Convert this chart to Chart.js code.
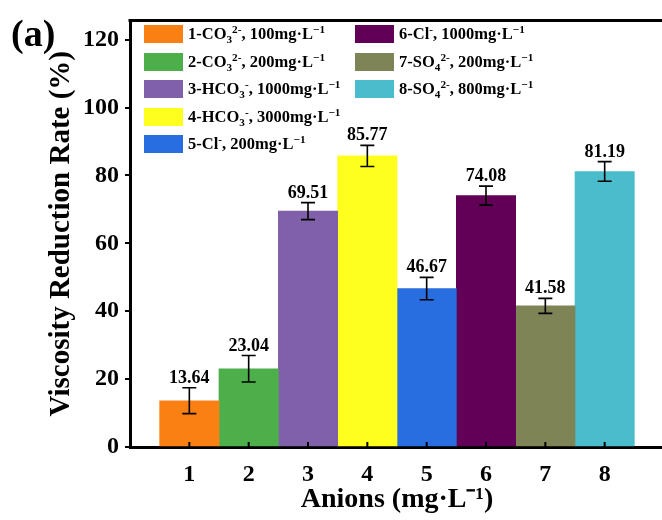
<!DOCTYPE html>
<html>
<head>
<meta charset="utf-8">
<script src="https://cdn.jsdelivr.net/npm/chart.js@4/dist/chart.umd.min.js"></script>
<style>
  html, body { margin: 0; padding: 0; overflow: hidden; background: #fff; }
  #wrap { position: relative; width: 670px; height: 520px; }
  #panel { position: absolute; left: 11px; top: 14px; font: bold 38px "Liberation Serif", serif; line-height: 1; }
  #legend { position: absolute; font: bold 16.5px "Liberation Serif", serif; color: #000; }
  .item { position: absolute; display: flex; align-items: center; white-space: nowrap; height: 20px; }
  .sw { display: inline-block; width: 39px; height: 18px; margin-right: 5px; }
  sub, sup { font-size: 0.68em; line-height: 0; }
</style>
</head>
<body>
<div id="wrap">
  <canvas id="c" width="670" height="520"></canvas>
  <div id="panel">(a)</div>
  <div id="legend"></div>
</div>
<script>
Chart.defaults.font.family = "Liberation Serif";
Chart.defaults.font.weight = "bold";
Chart.defaults.color = "#000";

const categories = [1, 2, 3, 4, 5, 6, 7, 8];
const values = [13.64, 23.04, 69.51, 85.77, 46.67, 74.08, 41.58, 81.19];
const errors = [3.8, 3.9, 2.5, 3.1, 3.3, 2.8, 2.2, 2.9];
const colors = [
    'rgb(250, 128, 20)',
    'rgb(77, 175, 74)',
    'rgb(128, 96, 168)',
    'rgb(255, 255, 30)',
    'rgb(40, 110, 225)',
    'rgb(98, 0, 88)',
    'rgb(126, 132, 86)',
    'rgb(75, 188, 204)',
];
const legendLabels = [
    '1-CO<sub>3</sub><sup>2-</sup>, 100mg·L<sup>−1</sup>',
    '2-CO<sub>3</sub><sup>2-</sup>, 200mg·L<sup>−1</sup>',
    '3-HCO<sub>3</sub><sup>-</sup>, 1000mg·L<sup>−1</sup>',
    '4-HCO<sub>3</sub><sup>-</sup>, 3000mg·L<sup>−1</sup>',
    '5-Cl<sup>-</sup>, 200mg·L<sup>−1</sup>',
    '6-Cl<sup>-</sup>, 1000mg·L<sup>−1</sup>',
    '7-SO<sub>4</sub><sup>2-</sup>, 200mg·L<sup>−1</sup>',
    '8-SO<sub>4</sub><sup>2-</sup>, 800mg·L<sup>−1</sup>',
];
const yTicks = [0, 20, 40, 60, 80, 100, 120];

// error bars, value labels, top frame line, inward x ticks
const extras = {
    id: 'extras',
    afterDatasetsDraw(chart) {
        const ctx = chart.ctx;
        const ys = chart.scales.y;
        const xs = chart.scales.x;
        const area = chart.chartArea;
        ctx.save();
        ctx.strokeStyle = '#000';
        ctx.fillStyle = '#000';
        chart.data.datasets.forEach((ds, i) => {
            const bar = chart.getDatasetMeta(i).data[0];
            const x = bar.x;
            const hi = ys.getPixelForValue(values[i] + errors[i]);
            const lo = ys.getPixelForValue(values[i] - errors[i]);
            ctx.lineWidth = 1.6;
            ctx.beginPath();
            ctx.moveTo(x, hi); ctx.lineTo(x, lo);
            ctx.moveTo(x - 7, hi); ctx.lineTo(x + 7, hi);
            ctx.moveTo(x - 7, lo); ctx.lineTo(x + 7, lo);
            ctx.stroke();
            ctx.font = 'bold 18px "Liberation Serif"';
            ctx.textAlign = 'center';
            ctx.textBaseline = 'alphabetic';
            ctx.fillText(values[i].toFixed(2), x, hi - 5);
        });
        ctx.lineWidth = 3;
        ctx.beginPath();
        ctx.moveTo(area.left - 1.5, area.top);
        ctx.lineTo(area.right + 10, area.top);
        ctx.stroke();
        ctx.lineWidth = 2;
        categories.forEach((c) => {
            const px = xs.getPixelForValue(c);
            ctx.beginPath();
            ctx.moveTo(px, area.bottom);
            ctx.lineTo(px, area.bottom - 5);
            ctx.stroke();
        });
        ctx.restore();
    }
};

const chart = new Chart(document.getElementById('c').getContext('2d'), {
    type: 'bar',
    data: {
        datasets: categories.map((c, i) => ({
            label: String(c),
            data: [{ x: c, y: values[i] }],
            backgroundColor: colors[i],
            borderWidth: 0,
            grouped: false,
            barPercentage: 1,
            categoryPercentage: 1,
        }))
    },
    options: {
        responsive: false,
        animation: false,
        events: [],
        layout: { padding: { left: 0, top: 17, right: 6, bottom: 0 } },
        scales: {
            x: {
                type: 'linear',
                min: 0,
                max: 9,
                offset: false,
                afterBuildTicks: (scale) => {
                    scale.ticks = categories.map((c) => ({ value: c }));
                },
                afterFit: (scale) => { scale.height = 73; },
                grid: { display: false },
                border: { display: true, width: 3, color: '#000' },
                ticks: {
                    font: { size: 24, weight: 'bold' },
                    padding: 5,
                    maxRotation: 0,
                    callback: (v) => String(v),
                },
                title: {
                    display: true,
                    text: 'Anions (mg·L⁻¹)',
                    font: { size: 28, weight: 'bold' },
                    padding: { top: 0, bottom: 3 },
                },
            },
            y: {
                min: 0,
                max: 125.7,
                afterBuildTicks: (scale) => {
                    scale.ticks = yTicks.map((v) => ({ value: v }));
                },
                afterFit: (scale) => { scale.width = 130; },
                grid: {
                    display: true,
                    drawOnChartArea: false,
                    drawTicks: true,
                    tickLength: 5,
                    lineWidth: 2,
                    color: '#000',
                },
                border: { display: true, width: 3, color: '#000' },
                ticks: {
                    font: { size: 24, weight: 'bold' },
                    padding: 6,
                },
                title: {
                    display: true,
                    text: 'Viscosity Reduction Rate (%)',
                    font: { size: 29, weight: 'bold' },
                    padding: { top: 44, bottom: 0 },
                },
            },
        },
        plugins: {
            legend: { display: false },
            tooltip: { enabled: false },
        }
    },
    plugins: [extras]
});

// legend inside the plot, two columns (5 + 3)
const legend = document.getElementById('legend');
const area = chart.chartArea;
legend.style.left = (area.left + 14) + 'px';
legend.style.top = (area.top + 4) + 'px';
legendLabels.forEach((txt, i) => {
    const col = i < 5 ? 0 : 1;
    const row = i < 5 ? i : i - 5;
    const item = document.createElement('div');
    item.className = 'item';
    item.style.left = (col * 211) + 'px';
    item.style.top = (row * 27.5) + 'px';
    item.innerHTML = '<span class="sw" style="background:' + colors[i] + '"></span><span>' + txt + '</span>';
    legend.appendChild(item);
});
</script>
</body>
</html>
